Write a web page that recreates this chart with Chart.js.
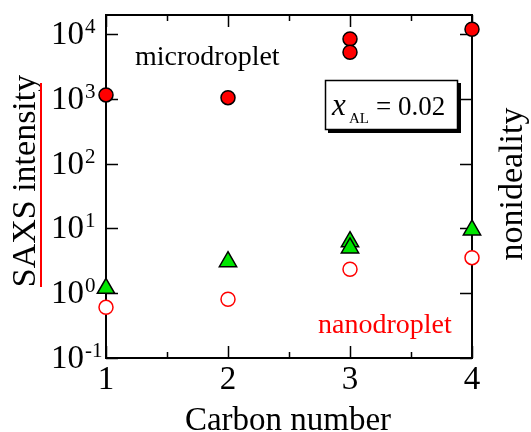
<!DOCTYPE html>
<html>
<head>
<meta charset="utf-8">
<script src="https://cdn.jsdelivr.net/npm/chart.js@4.4.1/dist/chart.umd.min.js"></script>
<style>
  html, body { margin: 0; padding: 0; background: #fff; }
  #wrap { width: 531px; height: 432px; }
</style>
</head>
<body>
<div id="wrap"><canvas id="c" width="531" height="432"></canvas></div>
<script>
// ---- data ----
const xCategories = [1, 2, 3, 4];
const xTickLabels = ['1', '2', '3', '4'];
const yTickValues = [0.1, 1, 10, 100, 1000, 10000];
const yTickExponents = ['-1', '0', '1', '2', '3', '4'];

const microX = [1, 2, 3, 3, 4];
const microY = [1145, 1040, 8370, 5220, 11830];

const nonidealX = [1, 2, 3, 3, 4];
const nonidealY = [1.19, 3.06, 6.23, 4.98, 9.45];

const nanoX = [1, 2, 3, 4];
const nanoY = [0.605, 0.805, 2.34, 3.53];

const labels = {
  yTitle: 'SAXS intensity',
  yRightTitle: 'nonideality',
  xTitle: 'Carbon number',
  micro: 'microdroplet',
  nano: 'nanodroplet'
};

const SERIF = '"Liberation Serif", "Times New Roman", serif';
const toPts = (xs, ys) => xs.map((x, i) => ({ x: x, y: ys[i] }));

const decorPlugin = {
  id: 'decor',
  beforeDatasetsDraw(chart) {
    const { ctx, chartArea: a, scales } = chart;
    const xs = scales.x, ys = scales.y;
    ctx.save();
    ctx.strokeStyle = '#000';
    ctx.lineWidth = 2;
    ctx.strokeRect(a.left, a.top, a.right - a.left, a.bottom - a.top);
    ctx.lineWidth = 1.5;
    ctx.beginPath();
    ys.ticks.forEach(t => {
      const y = Math.round(ys.getPixelForValue(t.value)) + 0.5;
      ctx.moveTo(a.left, y); ctx.lineTo(a.left + 12, y);
      ctx.moveTo(a.right, y); ctx.lineTo(a.right - 12, y);
    });
    xs.ticks.forEach(t => {
      const x = Math.round(xs.getPixelForValue(t.value)) + 0.5;
      const len = Number.isInteger(t.value) ? 12 : 6;
      ctx.moveTo(x, a.bottom); ctx.lineTo(x, a.bottom - len);
      ctx.moveTo(x, a.top); ctx.lineTo(x, a.top + len);
    });
    ctx.stroke();

    // y tick labels 10^n
    ctx.fillStyle = '#000';
    ctx.textBaseline = 'alphabetic';
    ctx.textAlign = 'left';
    yTickValues.forEach((v, i) => {
      const y = ys.getPixelForValue(v);
      ctx.font = '33px ' + SERIF;
      ctx.fillText('10', 51, y + 10);
      const w = ctx.measureText('10').width;
      ctx.font = '21px ' + SERIF;
      ctx.fillText(yTickExponents[i], 51 + w + 1, y - 1);
    });
    // x tick labels
    ctx.font = '33px ' + SERIF;
    ctx.textAlign = 'center';
    xCategories.forEach((v, i) => {
      ctx.fillText(xTickLabels[i], xs.getPixelForValue(v), 389);
    });
    // x title
    ctx.fillText(labels.xTitle, 288, 430);
    // left title rotated
    ctx.save();
    ctx.translate(35, 181);
    ctx.rotate(-Math.PI / 2);
    ctx.font = '34px ' + SERIF;
    ctx.textAlign = 'center';
    ctx.fillText(labels.yTitle, 0, 0);
    ctx.restore();
    // red line next to the title
    ctx.strokeStyle = '#ff0000';
    ctx.lineWidth = 2;
    ctx.beginPath();
    ctx.moveTo(41, 83); ctx.lineTo(41, 287);
    ctx.stroke();
    // right title rotated
    ctx.save();
    ctx.translate(522, 184);
    ctx.rotate(-Math.PI / 2);
    ctx.font = '34px ' + SERIF;
    ctx.textAlign = 'center';
    ctx.fillText(labels.yRightTitle, 0, 0);
    ctx.restore();
    // in-plot labels
    ctx.textAlign = 'left';
    ctx.font = '28px ' + SERIF;
    ctx.fillStyle = '#000';
    ctx.fillText(labels.micro, 135, 65);
    ctx.fillStyle = '#ff0000';
    ctx.fillText(labels.nano, 318, 333);
    ctx.restore();
  },
  afterDatasetsDraw(chart) {
    const { ctx } = chart;
    ctx.save();
    // shadowed box
    ctx.fillStyle = '#000';
    ctx.fillRect(328, 83, 133, 50);
    ctx.fillStyle = '#fff';
    ctx.fillRect(325, 80, 133, 50);
    ctx.strokeStyle = '#000';
    ctx.lineWidth = 1.5;
    ctx.strokeRect(325.5, 80.5, 132, 49);
    ctx.fillStyle = '#000';
    ctx.textBaseline = 'alphabetic';
    ctx.textAlign = 'left';
    ctx.font = 'italic 31px ' + SERIF;
    ctx.fillText('x', 332, 115);
    ctx.font = '15px ' + SERIF;
    ctx.fillText('AL', 349, 123);
    ctx.font = '27px ' + SERIF;
    ctx.fillText('= 0.02', 376, 115);
    ctx.restore();
  }
};

new Chart(document.getElementById('c'), {
  type: 'scatter',
  data: {
    datasets: [
      {
        label: 'nanodroplet',
        data: toPts(nanoX, nanoY),
        pointStyle: 'circle',
        pointRadius: 7,
        pointBackgroundColor: '#ffffff',
        pointBorderColor: '#ff0000',
        pointBorderWidth: 1.5,
        clip: false
      },
      {
        label: 'nonideality',
        data: toPts(nonidealX, nonidealY),
        pointStyle: 'triangle',
        pointRadius: 10,
        pointBackgroundColor: '#00e600',
        pointBorderColor: '#000000',
        pointBorderWidth: 1.5,
        clip: false
      },
      {
        label: 'microdroplet',
        data: toPts(microX, microY),
        pointStyle: 'circle',
        pointRadius: 7,
        pointBackgroundColor: '#ff0000',
        pointBorderColor: '#000000',
        pointBorderWidth: 1.5,
        clip: false
      }
    ]
  },
  options: {
    responsive: false,
    animation: false,
    events: [],
    layout: { padding: { top: 15, right: 59, left: 0, bottom: 0 } },
    plugins: { legend: { display: false }, tooltip: { enabled: false } },
    scales: {
      x: {
        type: 'linear',
        min: 1, max: 4,
        ticks: { display: false, stepSize: 0.5 },
        grid: { display: false },
        border: { display: false },
        afterFit(s) { s.height = 74; }
      },
      y: {
        type: 'logarithmic',
        min: 0.1, max: 19600,
        ticks: { display: false },
        grid: { display: false },
        border: { display: false },
        afterBuildTicks(s) { s.ticks = yTickValues.map(v => ({ value: v })); },
        afterFit(s) { s.width = 106; }
      }
    }
  },
  plugins: [decorPlugin]
});
</script>
</body>
</html>
